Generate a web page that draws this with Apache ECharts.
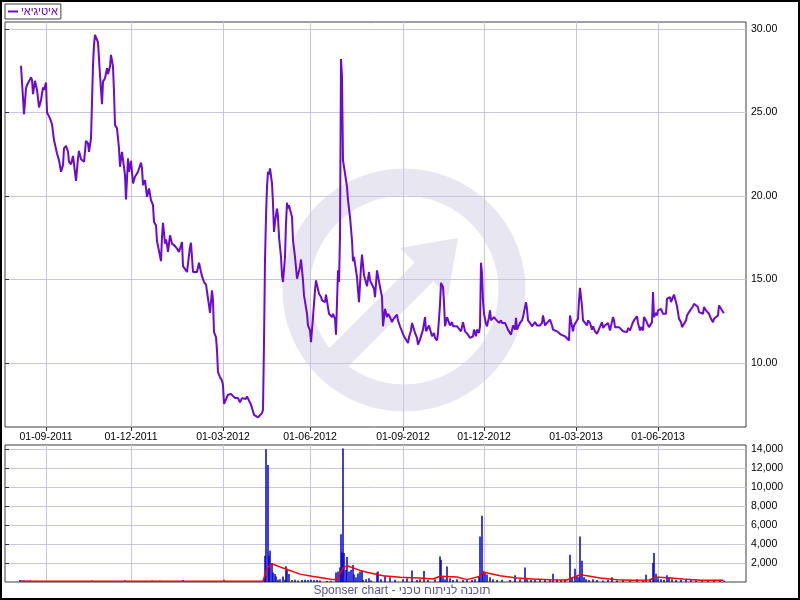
<!DOCTYPE html>
<html><head><meta charset="utf-8">
<script src="https://cdn.jsdelivr.net/npm/echarts@6/dist/echarts.min.js"></script>
<style>html,body{margin:0;padding:0;background:#fff}#c{width:800px;height:600px}</style>
</head><body><div id="c"></div>
<script>
// ---- data ----
const seriesName = 'איטיגיאי';
const footerText = 'Sponser chart - תוכנה לניתוח טכני';
// x = trading-day index
const dateTicks = [41, 126, 218, 305, 398, 479, 571, 653];
const dateLabels = ['01-09-2011','01-12-2011','01-03-2012','01-06-2012','01-09-2012','01-12-2012','01-03-2013','01-06-2013'];
const priceTicks = [10, 15, 20, 25, 30];
const volumeTicks = [2000, 4000, 6000, 8000, 10000, 12000, 14000];

const price = [
[16,27.8],[19,24.9],[21,26.45],[22,26.65],[24,26.75],[26,27.1],[27,26.95],[28,26.1],[30,26.9],[32,26.35],[34,25.3],[36,25.75],[38,26.5],[39,26.35],[41,26.8],[42,25.0],[45,24.65],[47,24.3],[49,23.35],[52,22.55],[54,22.15],[56,21.45],[58,21.85],[59,22.85],[61,23.0],[63,22.65],[64,22.05],[66,21.9],[68,22.4],[69,22.35],[71,20.9],[73,22.25],[74,22.7],[76,22.2],[79,22.05],[81,23.3],[83,23.15],[84,22.65],[86,23.45],[88,27.85],[89,29.05],[90,29.65],[92,29.35],[93,29.2],[95,27.25],[97,25.5],[98,26.85],[100,27.05],[102,27.65],[103,27.3],[105,27.75],[106,28.45],[108,27.75],[109,26.25],[110,24.25],[112,24.05],[114,22.85],[115,21.75],[117,22.65],[118,22.7],[120,21.25],[121,19.8],[123,22.25],[124,21.45],[126,22.1],[127,21.45],[128,20.75],[130,21.15],[132,21.15],[133,21.45],[134,21.5],[136,22.0],[137,21.65],[138,20.65],[140,20.95],[142,19.95],[144,20.45],[146,19.75],[148,19.45],[149,18.45],[151,18.25],[152,17.3],[154,17.25],[156,16.1],[157,17.55],[158,18.4],[160,17.15],[161,17.4],[162,17.1],[163,16.65],[165,17.65],[167,17.15],[168,17.2],[170,17.0],[172,16.85],[174,16.65],[175,16.75],[177,17.25],[178,15.8],[180,15.75],[182,15.45],[183,15.55],[185,16.95],[186,17.2],[188,15.45],[190,15.4],[192,15.45],[194,16.0],[196,15.45],[197,15.2],[199,14.85],[201,14.7],[203,14.65],[204,13.45],[205,13.0],[207,14.35],[208,13.75],[209,11.85],[211,11.55],[212,10.75],[213,9.45],[215,9.15],[217,8.95],[218,8.65],[219,7.55],[221,7.6],[223,8.1],[226,8.15],[228,8.15],[230,7.9],[232,8.0],[233,7.9],[235,7.65],[237,7.9],[238,7.85],[241,7.85],[242,8.0],[244,8.0],[246,7.5],[247,7.5],[249,6.9],[251,6.8],[253,6.75],[255,6.7],[257,7.0],[258,7.2],[259,11.2],[260,16.15],[261,18.75],[262,20.55],[263,21.45],[264,21.3],[265,21.65],[267,20.75],[268,19.55],[269,17.85],[270,18.45],[272,19.25],[273,18.75],[274,17.55],[276,16.35],[277,15.25],[278,14.85],[280,16.35],[281,18.35],[282,19.6],[283,19.25],[284,19.45],[285,19.2],[287,18.75],[288,17.35],[290,16.35],[292,15.05],[293,14.95],[295,15.75],[296,16.2],[298,14.95],[299,14.05],[300,14.15],[302,12.95],[303,12.25],[305,11.95],[306,11.25],[308,12.75],[310,14.35],[311,14.95],[312,14.95],[314,14.15],[316,13.95],[317,13.75],[319,13.8],[320,13.65],[321,14.1],[323,14.05],[324,12.95],[325,12.85],[327,12.75],[328,12.95],[330,12.65],[331,11.7],[333,15.55],[334,14.85],[335,17.55],[336,28.2],[337,27.15],[338,22.15],[340,21.35],[342,20.55],[343,19.75],[345,18.75],[347,17.35],[348,16.1],[349,16.35],[350,15.95],[352,15.15],[353,14.35],[354,13.65],[356,15.75],[357,16.5],[359,15.25],[361,15.3],[362,14.6],[364,15.45],[365,14.95],[367,14.85],[369,14.45],[370,13.95],[372,15.55],[373,15.45],[375,14.55],[377,13.95],[378,12.2],[380,13.25],[382,12.75],[383,12.95],[385,12.75],[387,12.45],[388,12.6],[390,12.55],[392,12.9],[393,12.55],[395,12.2],[397,11.9],[399,11.6],[401,11.6],[403,11.2],[404,11.55],[406,11.95],[407,12.4],[408,12.2],[410,11.8],[412,11.5],[413,11.1],[415,11.4],[417,11.35],[418,12.0],[420,12.75],[421,11.9],[422,11.9],[424,12.25],[425,12.2],[427,11.6],[429,11.8],[430,11.5],[432,11.35],[433,11.8],[435,13.5],[436,14.8],[438,14.55],[439,13.65],[440,12.2],[442,12.75],[443,12.75],[445,12.25],[447,12.45],[448,12.2],[450,12.15],[452,12.2],[454,12.15],[456,11.9],[457,11.95],[458,12.45],[460,11.9],[462,11.95],[463,11.7],[465,11.5],[467,11.45],[468,11.6],[469,12.0],[471,11.6],[472,12.0],[474,11.8],[475,12.2],[476,16.0],[477,15.35],[478,13.75],[479,12.95],[481,12.35],[482,12.2],[484,12.75],[485,13.15],[486,12.55],[488,12.45],[489,12.75],[491,12.6],[492,12.7],[494,12.4],[496,12.55],[497,12.4],[499,12.45],[500,12.4],[502,12.45],[503,12.0],[504,11.9],[506,11.7],[507,11.75],[508,12.25],[510,12.0],[511,12.7],[512,12.0],[513,12.15],[515,12.4],[517,12.55],[518,12.75],[519,12.75],[521,13.65],[522,13.25],[523,12.55],[525,12.4],[527,12.2],[528,12.15],[530,12.45],[532,12.25],[533,12.2],[535,12.25],[537,12.4],[538,12.85],[540,12.25],[542,12.4],[543,12.45],[545,12.6],[547,12.25],[548,12.0],[550,11.95],[552,11.9],[554,11.85],[556,11.7],[558,11.6],[560,11.6],[562,11.55],[564,11.35],[565,12.85],[566,12.5],[568,11.9],[569,12.25],[571,12.45],[573,12.65],[574,13.75],[575,14.5],[577,13.4],[578,12.55],[580,12.4],[582,12.25],[583,12.55],[585,12.4],[587,12.0],[588,12.2],[590,11.9],[592,11.75],[593,11.9],[595,12.0],[597,12.45],[598,12.1],[600,12.25],[602,12.15],[603,12.4],[605,11.95],[606,11.9],[608,12.75],[609,12.55],[610,12.15],[612,12.15],[614,12.15],[616,12.1],[618,11.9],[620,11.8],[622,11.85],[623,12.1],[625,11.95],[627,12.0],[628,12.45],[630,12.65],[632,12.8],[633,12.4],[635,11.95],[636,12.15],[638,11.95],[639,12.75],[641,12.55],[642,12.4],[644,12.15],[646,12.1],[647,12.45],[648,14.25],[649,12.75],[651,13.0],[652,12.85],[653,13.15],[655,13.05],[656,13.25],[658,12.95],[659,13.05],[661,12.95],[662,13.85],[664,13.75],[665,13.95],[666,13.65],[668,13.95],[669,14.1],[671,14.1],[672,13.4],[674,12.65],[676,12.45],[677,12.15],[679,12.25],[681,12.55],[682,12.85],[684,13.05],[686,13.15],[688,13.4],[689,13.55],[691,13.55],[693,13.35],[694,13.05],[696,12.95],[698,12.95],[699,13.35],[701,13.15],[703,13.15],[704,12.95],[706,12.65],[708,12.45],[709,12.65],[711,12.75],[713,12.85],[714,13.45],[716,13.35],[718,13.05],[719,13.0]
];

const volume = [
[15,200],[17,150],[19,180],[22,120],[25,150],[28,100],[31,130],[87,150],[120,180],[147,150],[152,100],[155,120],[165,80],[178,200],[187,100],[219,250],[228,80],
[259,400],[260,2770],[261,14000],[263,12350],[264,2800],[265,3300],[267,2000],[268,1010],[270,840],[271,590],[273,240],[275,300],[278,590],[280,240],[281,1650],[282,1400],[284,840],[287,200],[290,240],[293,150],[297,200],[300,250],[303,200],[306,250],[309,200],[312,200],[315,150],[322,100],[326,120],
[331,1010],[333,1100],[335,1540],[336,5050],[337,3120],[338,14100],[339,3050],[341,1300],[342,2630],[344,1100],[346,1300],[348,1790],[349,800],[351,500],[353,900],[355,1100],[357,1200],[358,200],[361,300],[364,400],[366,150],[372,1000],[373,1100],[376,300],[380,600],[385,500],[390,250],
[398,300],[402,400],[407,1220],[412,200],[415,300],[419,1170],[423,200],[430,300],[435,2700],[436,2350],[438,500],[440,300],[442,1630],[445,400],[448,200],[452,300],[458,200],[462,250],[467,200],[470,300],[474,600],[475,4800],[477,6980],[478,1190],[480,1000],[482,800],[485,500],[488,300],[492,200],[497,250],[505,200],[510,700],[515,300],[520,1540],[522,300],[526,200],[530,300],[535,250],[540,200],[545,300],[548,880],[552,300],[556,200],[560,300],
[565,2880],[567,500],[570,1400],[572,600],[574,500],[575,4800],[577,2250],[579,500],[581,300],[584,200],[588,300],[592,200],[598,150],[603,200],[607,500],[612,150],[618,200],[625,150],[632,300],[638,200],[641,770],[645,300],[648,2000],[649,3050],[651,880],[653,400],[656,300],[659,250],[662,700],[664,500],[667,300],[671,200],[676,250],[681,200],[686,200],[691,150],[697,150],[703,150],[709,200],[715,150],[719,150]
];

const volumeMA = [
[15,90],[100,80],[200,70],[258,70],[262,1470],[267,1930],[278,1470],[295,830],[307,600],[318,420],[328,250],[332,280],[338,1470],[342,1720],[355,1230],[362,1020],[378,670],[395,490],[415,420],[428,320],[435,600],[452,530],[462,250],[475,600],[478,1050],[495,670],[512,420],[528,320],[545,250],[562,210],[575,770],[582,670],[595,420],[612,250],[628,180],[645,210],[650,530],[662,460],[678,320],[695,180],[718,180]
];

// ---- chart ----
const purple = '#6a0ad2';
const gridColor = '#c9c5dc';
const frameColor = '#404040';
const wmColor = '#e8e6f1';
const font = 'Liberation Sans, Arial, sans-serif';

const chart = echarts.init(document.getElementById('c'), null, {renderer: 'canvas'});
chart.setOption({
  animation: false,
  backgroundColor: '#fff',
  legend: {
    data: [seriesName], left: 5, top: 4, icon: 'rect', itemWidth: 10, itemHeight: 2,
    itemGap: 0, padding: [2, 3, 2, 3], borderColor: frameColor, borderWidth: 1,
    backgroundColor: '#fff',
    textStyle: {color: purple, fontSize: 11, fontFamily: font, padding: [0, 0, 0, -2]}
  },
  grid: [
    {left: 5, right: 54, top: 22, bottom: 173, show: true, borderColor: frameColor, borderWidth: 1},
    {left: 5, right: 54, top: 445, bottom: 18, show: true, borderColor: frameColor, borderWidth: 1}
  ],
  xAxis: [
    {type: 'value', gridIndex: 0, min: 0, max: 741,
     axisLine: {show: false},
     axisTick: {show: true, length: 4, customValues: dateTicks, lineStyle: {color: '#333'}},
     axisLabel: {customValues: dateTicks, margin: 5, color: '#000', fontSize: 10.5, fontFamily: font,
       formatter: v => dateLabels[dateTicks.indexOf(v)] || ''},
     splitLine: {show: true, lineStyle: {color: gridColor, width: 1}}},
    {type: 'value', gridIndex: 1, min: 0, max: 741,
     axisLine: {show: false},
     axisTick: {show: false, customValues: dateTicks},
     axisLabel: {show: false, customValues: dateTicks},
     splitLine: {show: true, lineStyle: {color: gridColor, width: 1}}}
  ],
  yAxis: [
    {type: 'value', gridIndex: 0, position: 'right', min: 6.17, max: 30.42,
     axisLine: {show: false},
     axisTick: {show: true, length: 4, customValues: priceTicks, lineStyle: {color: '#333'}},
     axisLabel: {customValues: priceTicks, margin: 5, color: '#000', fontSize: 10.5, fontFamily: font,
       formatter: v => v.toFixed(2)},
     splitLine: {show: true, lineStyle: {color: gridColor, width: 1}}},
    {type: 'value', gridIndex: 1, position: 'right', min: 0, max: 14460,
     axisLine: {show: false},
     axisTick: {show: true, length: 4, customValues: volumeTicks, lineStyle: {color: '#333'}},
     axisLabel: {customValues: volumeTicks, margin: 5, color: '#000', fontSize: 10.5, fontFamily: font,
       formatter: v => v.toLocaleString('en-US')},
     splitLine: {show: true, lineStyle: {color: gridColor, width: 1}}}
  ],
  series: [
    {name: seriesName, type: 'line', xAxisIndex: 0, yAxisIndex: 0, data: price, showSymbol: false,
     lineStyle: {color: purple, width: 2}, itemStyle: {color: purple}, z: 5},
    {name: 'volume', type: 'bar', xAxisIndex: 1, yAxisIndex: 1, data: volume, barWidth: 1.5,
     itemStyle: {color: '#0000cc'}, z: 3},
    {name: 'volumeMA', type: 'line', xAxisIndex: 1, yAxisIndex: 1, data: volumeMA, showSymbol: false,
     lineStyle: {color: '#ff0000', width: 1.5}, z: 4}
  ],
  graphic: [
    {type: 'group', z: -1, silent: true, children: [
      {type: 'circle', shape: {cx: 404, cy: 290, r: 108},
       style: {fill: 'none', stroke: wmColor, lineWidth: 27}},
      {type: 'line', shape: {x1: 338, y1: 358, x2: 426, y2: 270},
       style: {stroke: wmColor, lineWidth: 26}},
      {type: 'polygon', shape: {points: [[458, 238], [400, 248], [448, 296]]},
       style: {fill: wmColor}}
    ]},
    {type: 'text', silent: true, style: {text: footerText, x: 402, y: 591, align: 'center', verticalAlign: 'middle',
     fill: '#5a50a0', font: '12px ' + font}},
    {type: 'rect', silent: true, shape: {x: 1, y: 1, width: 798, height: 598},
     style: {fill: 'none', stroke: '#000', lineWidth: 2}}
  ]
});
</script></body></html>
